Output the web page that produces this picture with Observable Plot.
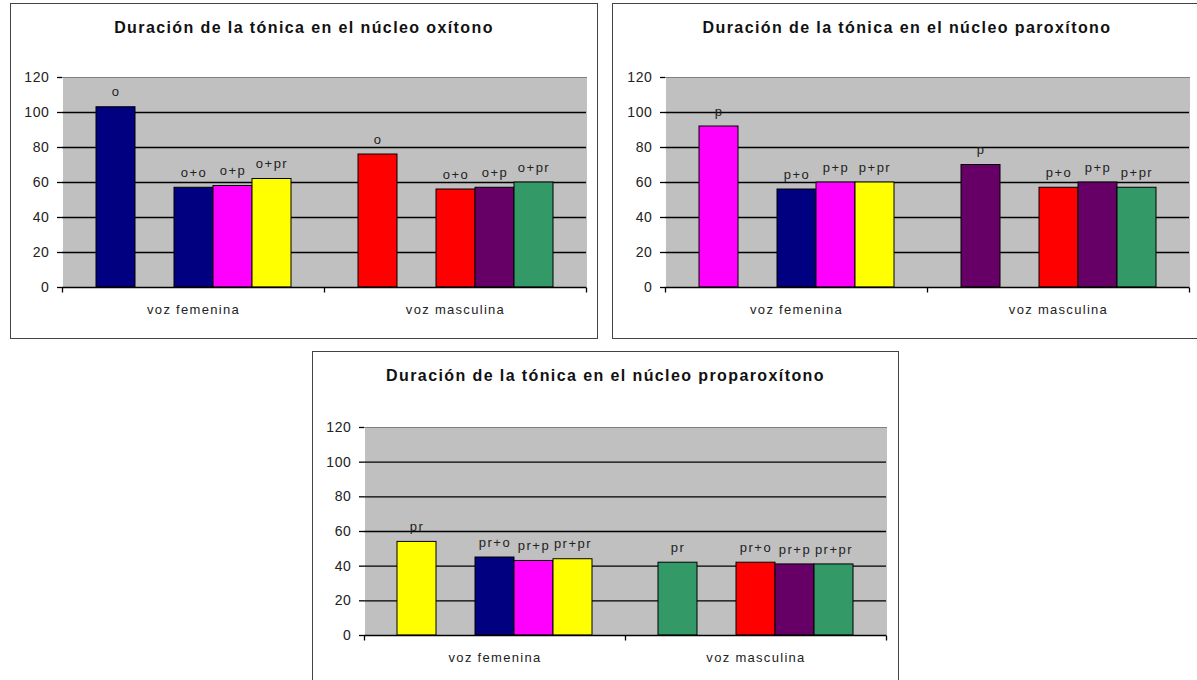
<!DOCTYPE html>
<html>
<head>
<meta charset="utf-8">
<script src="https://cdn.jsdelivr.net/npm/d3@7"></script>
<script src="https://cdn.jsdelivr.net/npm/@observablehq/plot@0.6"></script>
<style>
  html, body { margin: 0; padding: 0; background: #fff; }
  body { width: 1197px; height: 680px; position: relative; overflow: hidden; font-family: "Liberation Sans", Arial, sans-serif; }
  .panel { position: absolute; box-sizing: border-box; border: 1px solid #444; background: #fff; }
  .title { height: 40px; line-height: 47px; text-align: center; font-size: 16px; font-weight: bold; letter-spacing: 1.4px; color: #111; white-space: nowrap; }
  .panel svg { display: block; }
  .panel svg g[aria-label="fx-axis tick label"] text { letter-spacing: 1.3px; }
  .panel svg g[aria-label="text"] text { letter-spacing: 1.5px; }
  .panel svg g[aria-label="y-axis tick label"] text { letter-spacing: 0.6px; }
</style>
</head>
<body>
<div class="panel" id="p1" style="left:10px; top:3px; width:588px; height:336px;"></div>
<div class="panel" id="p2" style="left:612px; top:3px; width:590px; height:336px;"></div>
<div class="panel" id="p3" style="left:312px; top:351px; width:587px; height:340px;"></div>
<script>
// ---------- data ----------
const groups = ["voz femenina", "voz masculina"];
const slots = ["bar0", "gap", "bar1", "bar2", "bar3"]; // second slot left empty, as in the original
const barSlots = ["bar0", "bar1", "bar2", "bar3"];

const titles = [
  "Duración de la tónica en el núcleo oxítono",
  "Duración de la tónica en el núcleo paroxítono",
  "Duración de la tónica en el núcleo proparoxítono"
];

const labelsOx = ["o", "o+o", "o+p", "o+pr"];
const femOx = [103, 57, 58, 62];
const mascOx = [76, 56, 57, 60];

const labelsPar = ["p", "p+o", "p+p", "p+pr"];
const femPar = [92, 56, 60, 60];
const mascPar = [70, 57, 60, 57];

const labelsPro = ["pr", "pr+o", "pr+p", "pr+pr"];
const femPro = [54, 45, 43, 44];
const mascPro = [42, 42, 41, 41];

const yTicks = [0, 20, 40, 60, 80, 100, 120];

// colour keys: voice + last syllable type
const colorKeys = ["voz femenina|o", "voz femenina|p", "voz femenina|pr", "voz masculina|o", "voz masculina|p", "voz masculina|pr"];
const colorRange = ["#000080", "#FF00FF", "#FFFF00", "#FF0000", "#660066", "#339966"];

function rowsFor(labels, fem, masc) {
  const rows = [];
  [fem, masc].forEach((vals, gi) => {
    vals.forEach((v, i) => {
      const parts = labels[i].split("+");
      rows.push({group: groups[gi], slot: barSlots[i], label: labels[i], value: v,
                 key: groups[gi] + "|" + parts[parts.length - 1]});
    });
  });
  return rows;
}

const tickDown = {draw(ctx) { ctx.moveTo(0, 0); ctx.lineTo(0, 5); }};

function chart(rows, layout) {
  return Plot.plot({
    width: layout.width,
    height: layout.height,
    marginLeft: layout.ml,
    marginRight: layout.mr,
    marginTop: layout.mt,
    marginBottom: layout.mb,
    style: {fontFamily: "'Liberation Sans', Arial, sans-serif", fontSize: "13px", color: "#222", background: "transparent"},
    fx: {domain: groups, padding: 0, axis: null},
    x: {domain: slots, paddingInner: 0, paddingOuter: 0.78, axis: null},
    y: {domain: [0, 120], axis: null},
    color: {type: "ordinal", domain: colorKeys, range: colorRange},
    marks: [
      Plot.frame({fill: "#c0c0c0", stroke: "none", shapeRendering: "crispEdges"}),
      Plot.frame({anchor: "top", stroke: "#808080"}),
      Plot.gridY(yTicks.filter(t => t > 0 && t < 120), {stroke: "#000", strokeOpacity: 1, strokeWidth: 1.3}),
      Plot.axisY({anchor: "right", ticks: [], line: true, stroke: "#808080", strokeOpacity: 1, label: null}),
      Plot.barY(rows, {fx: "group", x: "slot", y: "value", fill: "key", stroke: "#000", strokeWidth: 1}),
      Plot.text(rows, {fx: "group", x: "slot", y: "value", text: "label", dy: -15, fontSize: 13, fill: "#222"}),
      Plot.ruleY([0], {stroke: "#000", strokeWidth: 1.3}),
      Plot.axisY({ticks: yTicks, tickSize: 5, tickPadding: 8, label: null, fontSize: 14, stroke: "#000", strokeOpacity: 1, strokeWidth: 1.3, line: true}),
      Plot.dot([0], {frameAnchor: "bottom-left", symbol: tickDown, stroke: "#000", strokeWidth: 1.3}),
      Plot.dot([{g: groups[1]}], {fx: "g", frameAnchor: "bottom-right", symbol: tickDown, stroke: "#000", strokeWidth: 1.3}),
      Plot.axisFx({anchor: "bottom", tickSize: 0, tickPadding: 17, label: null, fontSize: 13})
    ]
  });
}

const datasets = [
  rowsFor(labelsOx, femOx, mascOx),
  rowsFor(labelsPar, femPar, mascPar),
  rowsFor(labelsPro, femPro, mascPro)
];
const layouts = [
  {width: 586, height: 294, ml: 51, mr: 11, mt: 33, mb: 51},
  {width: 588, height: 294, ml: 52, mr: 12, mt: 33, mb: 51},
  {width: 585, height: 298, ml: 51, mr: 12, mt: 35, mb: 55}
];
["p1", "p2", "p3"].forEach((id, i) => {
  const el = document.getElementById(id);
  const t = document.createElement("div");
  t.className = "title";
  t.textContent = titles[i];
  el.appendChild(t);
  el.appendChild(chart(datasets[i], layouts[i]));
});
</script>
</body>
</html>
